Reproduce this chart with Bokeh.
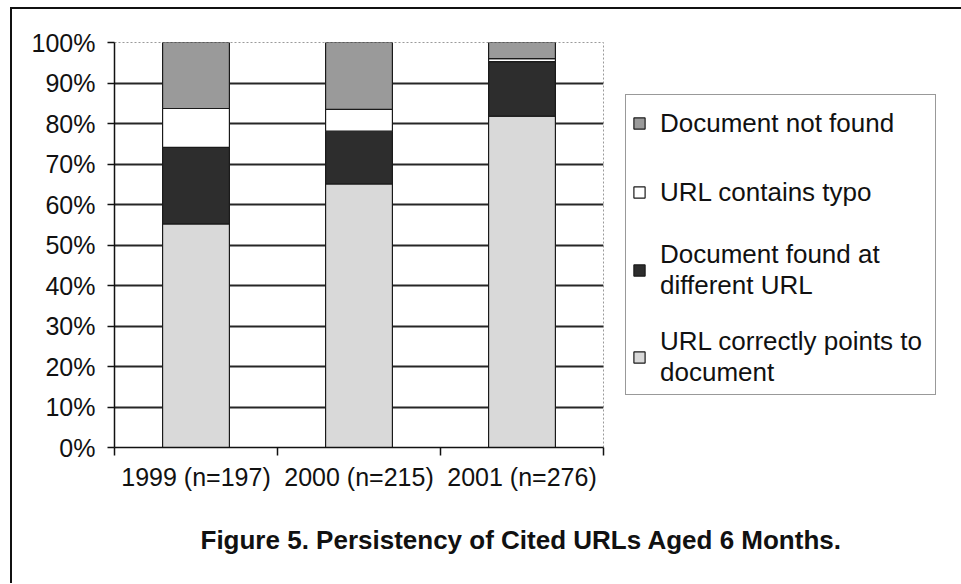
from bokeh.plotting import figure
from bokeh.models import (Range1d, LinearAxis, FixedTicker, ColumnDataSource, Title,
                          SingleIntervalTicker, PrintfTickFormatter, Legend, LegendItem)
from bokeh.embed import file_html
from bokeh.resources import INLINE

# ---- data (percent of cited URLs) ----
categories = ["1999 (n=197)", "2000 (n=215)", "2001 (n=276)"]
url_correct = [55.2, 65.1, 81.8]
found_different = [18.9, 13.0, 13.5]
contains_typo = [9.6, 5.4, 0.7]
not_found = [16.3, 16.5, 4.0]
series_names = ["URL correctly points to\ndocument", "Document found at\ndifferent URL",
                "URL contains typo", "Document not found"]
title_text = "Figure 5. Persistency of Cited URLs Aged 6 Months."

FONT = "Liberation Sans"
colors = ["#d9d9d9", "#2d2d2d", "#ffffff", "#9a9a9a"]
keys = ["correct", "diff", "typo", "nf"]
n = len(categories)
centers = [i + 0.5 for i in range(n)]
edges = list(range(n + 1))
source = ColumnDataSource(dict(x=centers, cat=categories, correct=url_correct, diff=found_different,
                               typo=contains_typo, nf=not_found))

p = figure(x_range=Range1d(0, n), y_range=Range1d(0, 100),
           frame_width=489, frame_height=405, output_backend="svg", toolbar_location=None,
           x_axis_location=None, y_axis_location=None,
           min_border_left=102, min_border_right=357, min_border_top=33, min_border_bottom=136)
p.styles = {"border-top": "2px solid #111", "border-left": "2px solid #111",
            "margin-left": "10px", "margin-top": "7px"}
p.background_fill_color = "white"
p.border_fill_color = "white"
p.outline_line_color = "#9a9a9a"
p.outline_line_dash = "2 2"
p.outline_line_width = 1

# y axis
yax = LinearAxis(ticker=SingleIntervalTicker(interval=10, num_minor_ticks=0),
                 formatter=PrintfTickFormatter(format="%d%%"))
yax.axis_line_color = "#111"
yax.axis_line_width = 1.5
yax.major_tick_line_color = "#111"
yax.major_tick_line_width = 1.5
yax.major_tick_out = 7
yax.major_tick_in = 0
yax.minor_tick_line_color = None
yax.major_label_standoff = 12
yax.major_label_text_font = FONT
yax.major_label_text_font_size = "25px"
yax.major_label_text_color = "#111"
p.add_layout(yax, "left")

# x axis: labels at category centres, ticks at category boundaries
xax = LinearAxis(ticker=FixedTicker(ticks=centers, minor_ticks=edges))
xax.major_label_overrides = {c: lab for c, lab in zip(centers, categories)}
xax.axis_line_color = "#111"
xax.axis_line_width = 1.5
xax.major_tick_line_color = None
xax.major_tick_out = 8
xax.major_tick_in = 0
xax.minor_tick_line_color = "#111"
xax.minor_tick_line_width = 1.5
xax.minor_tick_out = 8
xax.minor_tick_in = 0
xax.major_label_standoff = 7
xax.major_label_text_font = FONT
xax.major_label_text_font_size = "25px"
xax.major_label_text_color = "#111"
p.add_layout(xax, "below")

# grid
p.ygrid.ticker = FixedTicker(ticks=list(range(10, 100, 10)))
p.ygrid.grid_line_color = "#262626"
p.ygrid.grid_line_width = 2
p.xgrid.grid_line_color = None

rs = p.vbar_stack(keys, x="x", width=0.41, source=source, color=colors,
                  line_color="#1a1a1a", line_width=1.2)

items = [LegendItem(label=series_names[i], renderers=[rs[i]]) for i in [3, 2, 1, 0]]
legend = Legend(items=items, location=(22, 52))
legend.label_text_font = FONT
legend.label_text_font_size = "26px"
legend.label_text_line_height = 1.25
legend.label_text_color = "#111"
legend.label_height = 44
legend.label_width = 269
legend.glyph_width = 14
legend.glyph_height = 14
legend.label_standoff = 14
legend.padding = 6
legend.spacing = 25
legend.border_line_color = "#333"
legend.border_line_width = 1.5
legend.background_fill_alpha = 1
p.add_layout(legend, "right")

title = Title(text=title_text, align="left", offset=86, standoff=58,
              text_font=FONT, text_font_style="bold", text_font_size="26px", text_color="#111")
p.add_layout(title, "below")

open("out.html", "w").write(file_html(p, INLINE))
